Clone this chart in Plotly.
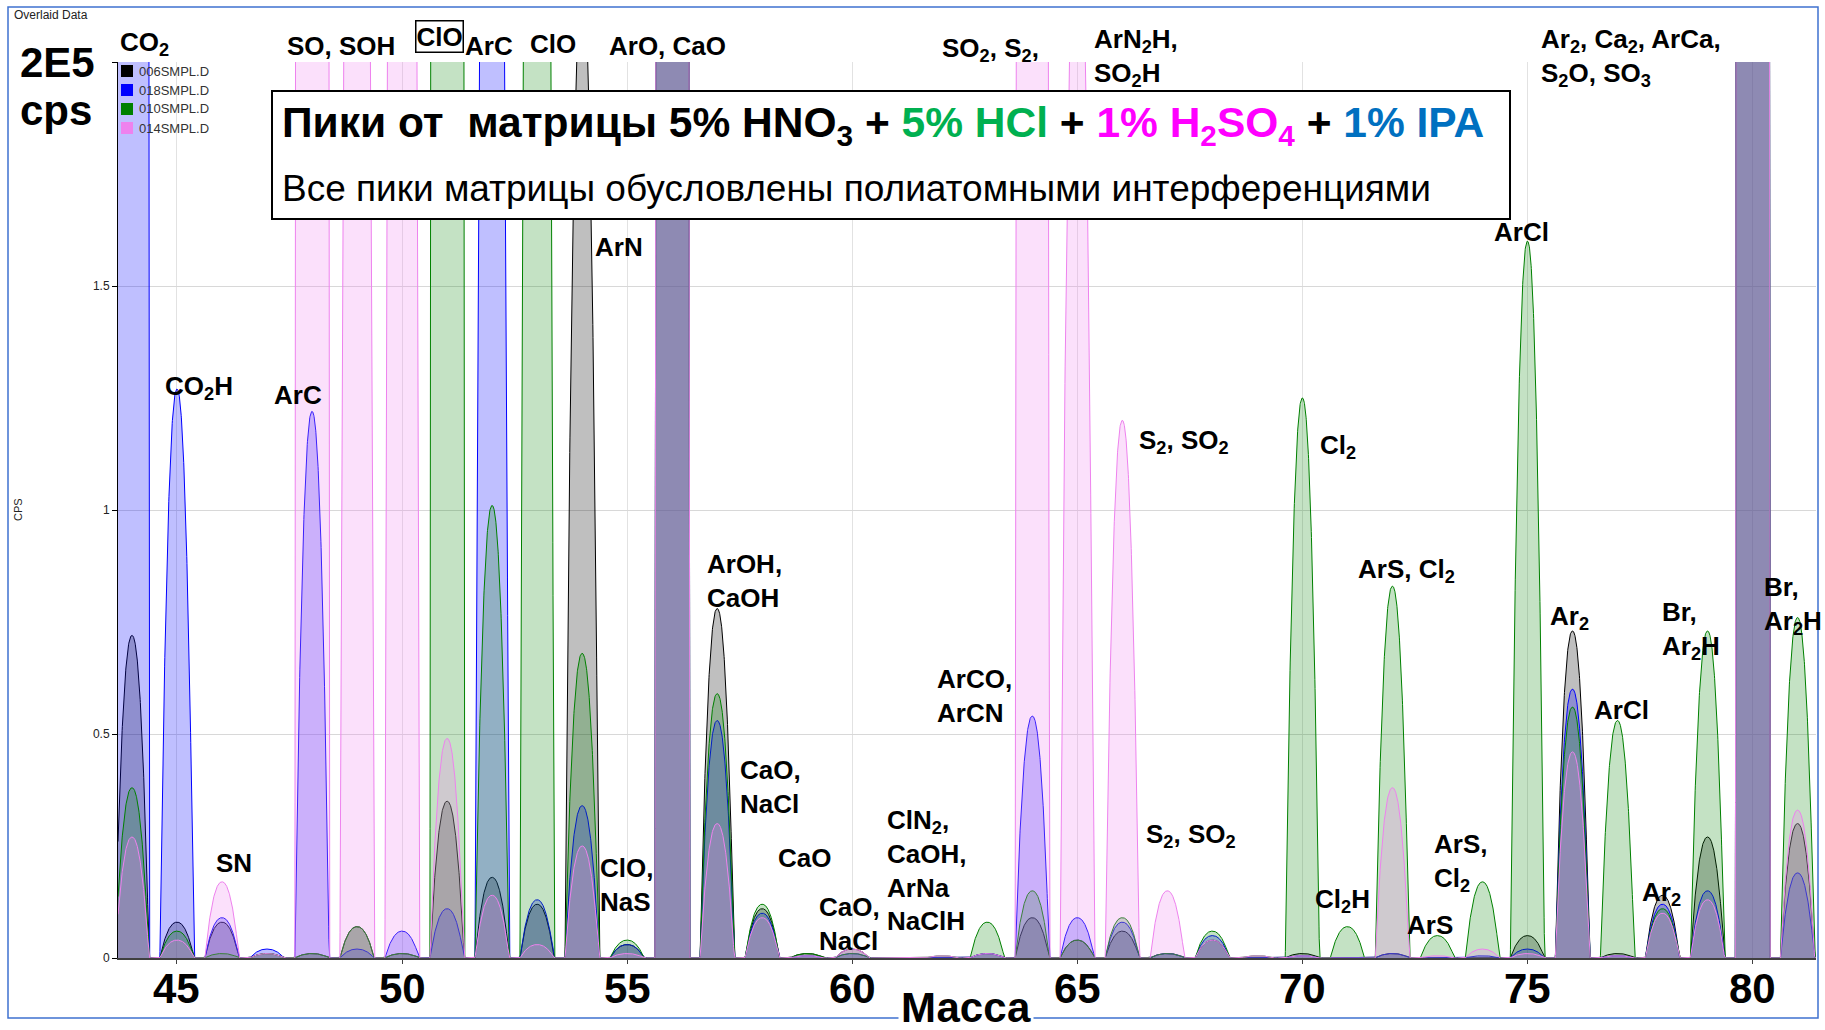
import numpy as np
import plotly.graph_objects as go

# integer masses covered by the scan
masses = list(range(44, 82))

# peak heights per mass, in units of 1E5 cps (values above 2 run off the 2E5 scale)
smpl_006 = [0.72, 0.08, 0.08, 0.01, 0.01, 0.07, 0.01, 0.35, 0.18, 0.12,
            2.2, 0.03, 25, 0.78, 0.11, 0.01, 0.02, 0.0, 0.0, 0.01,
            0.09, 0.04, 0.06, 0.01, 0.04, 0.0, 0.01, 0.0, 0.01, 0.0,
            0.0, 0.05, 0.73, 0.01, 0.14, 0.27, 30, 0.30]
smpl_018 = [30, 1.27, 0.09, 0.02, 1.22, 0.02, 0.06, 0.11, 4.1, 0.13,
            0.34, 0.03, 25, 0.53, 0.10, 0.005, 0.01, 0.0, 0.0, 0.01,
            0.54, 0.09, 0.08, 0.01, 0.05, 0.0, 0.005, 0.0, 0.01, 0.0,
            0.005, 0.02, 0.60, 0.005, 0.12, 0.15, 30, 0.19]
smpl_010 = [0.38, 0.06, 0.01, 0.01, 0.01, 0.07, 0.01, 25, 1.01, 5.6,
            0.68, 0.04, 25, 0.59, 0.12, 0.01, 0.01, 0.0, 0.005, 0.08,
            0.15, 0.04, 0.09, 0.01, 0.06, 0.005, 1.25, 0.07, 0.83, 0.05,
            0.17, 1.60, 0.56, 0.53, 0.11, 0.73, 30, 0.76]
smpl_014 = [0.27, 0.04, 0.17, 0.01, 30, 4.9, 7.5, 0.49, 0.14, 0.03,
            0.25, 0.01, 25, 0.30, 0.09, 0.005, 0.02, 0.0, 0.005, 0.01,
            17, 2.5, 1.2, 0.15, 0.04, 0.005, 0.005, 0.0, 0.38, 0.005,
            0.02, 0.01, 0.46, 0.005, 0.10, 0.13, 30, 0.33]

series_names = ["006SMPL.D", "018SMPL.D", "010SMPL.D", "014SMPL.D"]
series_data = [smpl_006, smpl_018, smpl_010, smpl_014]
line_colors = ["#000000", "#0000FF", "#008000", "#EE82EE"]
fill_colors = ["rgba(0,0,0,0.25)", "rgba(0,0,255,0.25)",
               "rgba(0,128,0,0.23)", "rgba(238,130,238,0.25)"]

x_ticks = [45, 50, 55, 60, 65, 70, 75, 80]
y_ticks = [0, 0.5, 1, 1.5, 2]
y_ticktext = ["0", "0.5", "1", "1.5", ""]
Y_TOP = 2.0

FONT = "Liberation Sans, Arial, sans-serif"
W, H = 1825, 1030
L, R, T, B = 118, 9, 62, 72
PW, PH = W - L - R, H - T - B


def px(x):
    """pixel x -> paper"""
    return (x - L) / PW


def py(y):
    """pixel y -> paper"""
    return (H - B - y) / PH


def profile(xs, heights, half_width=0.38, power=2.2):
    """quadrupole-like peak profile around each integer mass"""
    ys = np.zeros_like(xs)
    for m, h in zip(masses, heights):
        d = np.abs(xs - m) / half_width
        inside = d < 1
        ys[inside] += h * (1 - d[inside] ** power)
    return ys


xs = np.arange(43.69, 81.41, 0.004)

fig = go.Figure()
for name, vals, lc, fc in zip(series_names, series_data, line_colors, fill_colors):
    fig.add_trace(go.Scatter(x=xs, y=profile(xs, vals), name=name, mode="lines",
                             line=dict(color=lc, width=1), fill="tozeroy",
                             fillcolor=fc, hoverinfo="skip"))

fig.update_layout(
    width=W, height=H,
    margin=dict(l=L, r=R, t=T, b=B),
    plot_bgcolor="white", paper_bgcolor="white",
    showlegend=False,
    font=dict(family=FONT, color="black"),
)
fig.update_xaxes(range=[43.69, 81.41], tickvals=x_ticks, showticklabels=False,
                 showgrid=True, gridcolor="#e2e2e2", gridwidth=1,
                 showline=True, linecolor="#404040", linewidth=2,
                 ticks="outside", ticklen=4, tickcolor="#404040", zeroline=False)
fig.update_yaxes(range=[0, Y_TOP], tickvals=y_ticks, ticktext=y_ticktext,
                 tickfont=dict(family=FONT, size=12, color="#222222"),
                 showgrid=True, gridcolor="#d8d8d8", gridwidth=1,
                 showline=True, linecolor="black", linewidth=1,
                 ticks="outside", ticklen=5, tickcolor="black", zeroline=False)

# big bold mass tick labels sit close under the axis
for t in x_ticks:
    fig.add_annotation(x=t, y=py(989), xref="x", yref="paper", text=str(t),
                       showarrow=False, xanchor="center", yanchor="middle",
                       font=dict(family=FONT, size=42, weight="bold", color="black"))

# peak labels: text, mass, level (1E5 cps), anchor
peak_labels = [
    ("CO<sub>2</sub>", 44.27, 2.042, "center"),
    ("SO, SOH", 48.65, 2.035, "center"),
    ("ArC", 51.93, 2.035, "center"),
    ("ClO", 53.35, 2.040, "center"),
    ("ArO, CaO", 55.90, 2.035, "center"),
    ("SO<sub>2</sub>, S<sub>2</sub>,", 63.08, 2.027, "center"),
    ("ArN<sub>2</sub>H,<br>SO<sub>2</sub>H", 65.32, 2.011, "left"),
    ("Ar<sub>2</sub>, Ca<sub>2</sub>, ArCa,<br>S<sub>2</sub>O, SO<sub>3</sub>", 75.26, 2.009, "left"),
    ("CO<sub>2</sub>H", 45.49, 1.273, "center"),
    ("ArC", 47.69, 1.257, "center"),
    ("SN", 46.27, 0.213, "center"),
    ("ArN", 54.82, 1.588, "center"),
    ("ArOH,<br>CaOH", 56.73, 0.842, "left"),
    ("ClO,<br>NaS", 54.35, 0.164, "left"),
    ("CaO,<br>NaCl", 57.46, 0.382, "left"),
    ("CaO", 58.95, 0.224, "center"),
    ("CaO,<br>NaCl", 59.22, 0.076, "left"),
    ("ClN<sub>2</sub>,<br>CaOH,<br>ArNa<br>NaClH", 60.73, 0.196, "left"),
    ("ArCO,<br>ArCN", 61.84, 0.585, "left"),
    ("S<sub>2</sub>, SO<sub>2</sub>", 67.37, 1.152, "center"),
    ("S<sub>2</sub>, SO<sub>2</sub>", 67.52, 0.273, "center"),
    ("Cl<sub>2</sub>", 70.79, 1.141, "center"),
    ("ArS, Cl<sub>2</sub>", 72.32, 0.866, "center"),
    ("Cl<sub>2</sub>H", 70.90, 0.129, "center"),
    ("ArS", 72.83, 0.074, "center"),
    ("ArS,<br>Cl<sub>2</sub>", 72.88, 0.214, "left"),
    ("ArCl", 74.87, 1.621, "center"),
    ("Ar<sub>2</sub>", 75.94, 0.759, "center"),
    ("ArCl", 77.08, 0.554, "center"),
    ("Br,<br>Ar<sub>2</sub>H", 77.94, 0.730, "left"),
    ("Ar<sub>2</sub>", 77.97, 0.145, "center"),
    ("Br,<br>Ar<sub>2</sub>H", 80.22, 0.786, "left"),
]
for text, xm, yv, anchor in peak_labels:
    fig.add_annotation(x=xm, y=yv / Y_TOP, xref="x", yref="paper", text=text,
                       showarrow=False, xanchor=anchor, yanchor="middle", align="left",
                       font=dict(family=FONT, size=26, weight="bold", color="black"))

# boxed ClO
fig.add_annotation(x=50.84, y=2.056 / Y_TOP, xref="x", yref="paper", text="ClO",
                   showarrow=False, xanchor="center", yanchor="middle",
                   bordercolor="black", borderwidth=1.5, borderpad=0,
                   font=dict(family=FONT, size=26, weight="bold", color="black"))

# outer window frame
fig.add_shape(type="rect", xref="paper", yref="paper",
              x0=px(8), x1=px(1818), y0=py(1018), y1=py(7),
              line=dict(color="#3f72d0", width=1.5), fillcolor="rgba(0,0,0,0)")

# legend swatches
for i, (name, lc) in enumerate(zip(series_names, line_colors)):
    yc = 71 + i * 19
    fig.add_shape(type="rect", xref="paper", yref="paper",
                  x0=px(121), x1=px(133), y0=py(yc + 6), y1=py(yc - 6),
                  line=dict(width=0), fillcolor=lc, layer="above")
    fig.add_annotation(x=px(137), y=py(yc), xref="paper", yref="paper", text=name,
                       showarrow=False, xanchor="left", yanchor="middle",
                       font=dict(family=FONT, size=13, color="#333333"))

# title box
fig.add_shape(type="rect", xref="paper", yref="paper",
              x0=px(272), x1=px(1510), y0=py(219), y1=py(91),
              line=dict(color="black", width=2), fillcolor="white", layer="above")
title_line = ("Пики от  матрицы 5% HNO<sub>3</sub> + "
              "<span style='color:#00B050'>5% HCl</span> + "
              "<span style='color:#FF00FF'>1% H<sub>2</sub>SO<sub>4</sub></span> + "
              "<span style='color:#0070C0'>1% IPA</span>")
fig.add_annotation(x=px(280), y=py(125), xref="paper", yref="paper", text=title_line,
                   showarrow=False, xanchor="left", yanchor="middle",
                   font=dict(family=FONT, size=42.5, weight="bold", color="black"))
fig.add_annotation(x=px(280), y=py(188), xref="paper", yref="paper",
                   text="Все пики матрицы обусловлены полиатомными интерференциями",
                   showarrow=False, xanchor="left", yanchor="middle",
                   font=dict(family=FONT, size=37, color="black"))

# scale note, window texts, axis titles
fig.add_annotation(x=px(18), y=py(63), xref="paper", yref="paper", text="2E5",
                   showarrow=False, xanchor="left", yanchor="middle",
                   font=dict(family=FONT, size=42, weight="bold", color="black"))
fig.add_annotation(x=px(18), y=py(110), xref="paper", yref="paper", text="cps",
                   showarrow=False, xanchor="left", yanchor="middle",
                   font=dict(family=FONT, size=42, weight="bold", color="black"))
fig.add_annotation(x=px(12), y=py(15), xref="paper", yref="paper", text="Overlaid Data",
                   showarrow=False, xanchor="left", yanchor="middle",
                   font=dict(family=FONT, size=12, color="#222222"))
fig.add_annotation(x=px(18), y=py(510), xref="paper", yref="paper", text="CPS",
                   showarrow=False, textangle=-90, xanchor="center", yanchor="middle",
                   font=dict(family=FONT, size=11, color="#222222"))
fig.add_annotation(x=px(966), y=py(1007), xref="paper", yref="paper", text="Масса",
                   showarrow=False, xanchor="center", yanchor="middle",
                   bgcolor="white", borderpad=2,
                   font=dict(family=FONT, size=42, weight="bold", color="black"))

# page body has a default 8px margin; drop it so the figure sits at the window corner
fig.write_html("out.html", config={"displayModeBar": False},
               post_script="document.body.style.margin='0';")
